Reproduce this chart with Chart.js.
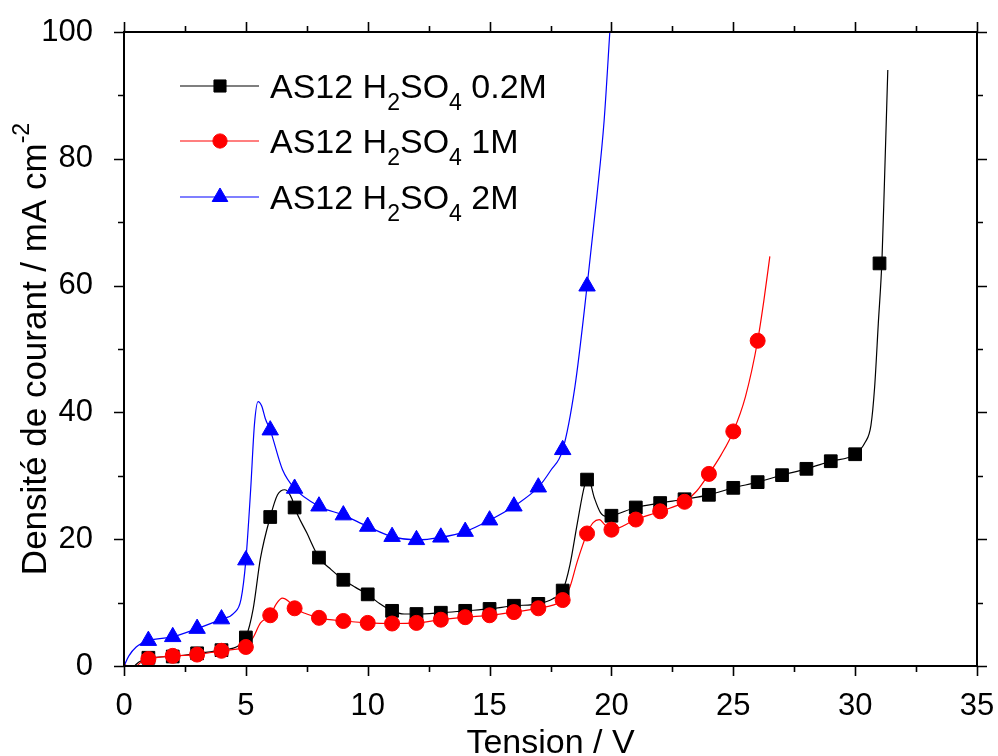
<!DOCTYPE html>
<html>
<head>
<meta charset="utf-8">
<script src="https://cdn.jsdelivr.net/npm/chart.js@4.4.1/dist/chart.umd.min.js"></script>
<style>
  html, body { margin: 0; padding: 0; background: #fff; }
</style>
</head>
<body>
<canvas id="jvChart" width="998" height="756"></canvas>
<script>
// markers (one per volt)
const markerV02 = [1,2,3,4,5,6,7,8,9,10,11,12,13,14,15,16,17,18,19,20,21,22,23,24,25,26,27,28,29,30,31];
const markerJ02 = [1.3,1.5,2.0,2.5,4.5,23.5,25.0,17.1,13.6,11.3,8.7,8.2,8.4,8.7,9.0,9.5,9.8,11.9,29.4,23.7,25.0,25.7,26.3,27.0,28.1,29.0,30.1,31.1,32.3,33.4,63.5];
const markerV1 = [1,2,3,4,5,6,7,8,9,10,11,12,13,14,15,16,17,18,19,20,21,22,23,24,25,26];
const markerJ1 = [1.1,1.6,1.8,2.4,3.0,8.0,9.1,7.6,7.1,6.8,6.7,6.8,7.3,7.7,8.0,8.5,9.1,10.4,20.9,21.5,23.1,24.4,25.9,30.3,37.0,51.3];
const markerV2 = [1,2,3,4,5,6,7,8,9,10,11,12,13,14,15,16,17,18,19];
const markerJ2 = [4.0,4.6,5.9,7.4,16.7,37.2,28.0,25.2,23.8,22.0,20.4,19.9,20.3,21.2,23.0,25.2,28.2,34.1,59.9];

const curveV02 = [0,0.3,0.6,1,2,3,4,4.7,5,5.3,5.6,6,6.3,6.6,6.9,7,7.5,8,8.5,9,9.5,10,10.5,11,11.5,12,13,14,15,16,17,17.6,18,18.3,18.6,18.9,19.05,19.3,19.55,19.8,20,21,22,23,24,25,26,27,28,29,30,30.4,30.65,30.8,30.95,31.1,31.2,31.34];
const curveJ02 = [0,-0.3,0.6,1.3,1.5,2.0,2.5,3.2,4.5,9,17,23.5,27,27.8,26.3,25.0,21,17.1,15.2,13.6,12.4,11.3,9.8,8.7,8.2,8.2,8.4,8.7,9.0,9.5,9.8,10.6,11.9,16,22.5,28.5,29.6,26.5,24.2,23.6,23.7,25.0,25.7,26.3,27.0,28.1,29.0,30.1,31.1,32.3,33.4,35.2,38,44,54,64,76,94];
const curveV1 = [0,0.35,0.7,1,2,3,4,4.7,5,5.3,5.6,6,6.25,6.5,6.75,7,7.5,8,9,10,11,12,13,14,15,16,17,17.6,18,18.3,18.6,19,19.25,19.5,19.75,20,21,22,23,23.5,24,24.5,25,25.5,26,26.25,26.5];
const curveJ1 = [0.3,-0.4,0.6,1.1,1.6,1.8,2.4,2.7,3.0,4.5,6.8,8.0,9.8,10.7,10.2,9.1,8.2,7.6,7.1,6.8,6.7,6.8,7.3,7.7,8.0,8.5,9.1,9.6,10.4,12.5,16.5,20.9,22.6,23.1,22.2,21.5,23.1,24.4,25.9,27.6,30.3,33.3,37.0,42.5,51.3,57.5,64.6];
const curveV2 = [0,0.2,0.5,1,2,3,4,4.5,4.8,5,5.2,5.35,5.5,5.65,5.8,6,6.5,7,8,9,10,11,12,13,14,15,16,17,17.5,18,18.5,19,19.4,19.7,19.95];
const curveJ2 = [0,1.6,3.0,4.0,4.6,5.9,7.4,8.3,10.5,16.7,28,38,41.7,41,39,37.2,31,28.0,25.2,23.8,22.0,20.4,19.9,20.3,21.2,23.0,25.2,28.2,30.8,34.1,44,59.9,74,86,101];

const seriesLabels = ['AS12 H_{2}SO_{4} 0.2M', 'AS12 H_{2}SO_{4} 1M', 'AS12 H_{2}SO_{4} 2M'];
const xTitle = 'Tension / V';
const yTitle = 'Densité de courant / mA cm^{-2}';

const FONT = "'Liberation Sans', Arial, sans-serif";
const colors = ['#000000', '#ff0000', '#0000ff'];
const styles = ['rect', 'circle', 'triangle'];
const radii = [9, 7.5, 9.5];

const pts = (xs, ys) => xs.map((x, i) => ({ x: x, y: ys[i] }));

const curveSet = (xs, ys, i) => ({
    data: pts(xs, ys),
    showLine: true,
    pointRadius: 0,
    borderColor: colors[i],
    borderWidth: 1.2,
    cubicInterpolationMode: 'monotone',
    order: 10 + (3 - i),
});

const markerSet = (xs, ys, i) => ({
    data: pts(xs, ys),
    showLine: false,
    pointStyle: styles[i],
    pointRadius: radii[i],
    pointBackgroundColor: colors[i],
    pointBorderColor: colors[i],
    pointBorderWidth: 1,
    order: 3 - i,
});

// split "a_{b}c^{d}" into parts
function richParts(str) {
    const out = [];
    str.split(/([_^]\{[^}]*\})/).forEach(p => {
        if (!p) return;
        if (p[0] === '_') out.push({ t: p.slice(2, -1), k: 'sub' });
        else if (p[0] === '^') out.push({ t: p.slice(2, -1), k: 'sup' });
        else out.push({ t: p, k: '' });
    });
    return out;
}

function richWidth(ctx, parts, size, small) {
    let w = 0;
    parts.forEach(p => {
        ctx.font = (p.k ? small : size) + 'px ' + FONT;
        w += ctx.measureText(p.t).width;
    });
    return w;
}

function drawRich(ctx, parts, x, y, size, small, subDy, supDy) {
    parts.forEach(p => {
        ctx.font = (p.k ? small : size) + 'px ' + FONT;
        let dy = 0;
        if (p.k === 'sub') dy = subDy;
        if (p.k === 'sup') dy = supDy;
        ctx.fillText(p.t, x, y + dy);
        x += ctx.measureText(p.t).width;
    });
}

const framePlugin = {
    id: 'frame',
    afterDatasetsDraw(chart) {
        const ctx = chart.ctx;
        const a = chart.chartArea;
        const xs = chart.scales.x, ys = chart.scales.y;
        ctx.save();
        ctx.strokeStyle = '#000';
        ctx.lineWidth = 2;
        ctx.strokeRect(a.left, a.top, a.right - a.left, a.bottom - a.top);
        ctx.lineWidth = 1.6;
        ctx.beginPath();
        for (let v = 0; v <= 35; v += 2.5) {
            const px = Math.round(xs.getPixelForValue(v)) + 0.5;
            const len = v % 5 === 0 ? 10 : 6;
            ctx.moveTo(px, a.bottom); ctx.lineTo(px, a.bottom + len);
            ctx.moveTo(px, a.top); ctx.lineTo(px, a.top - len);
        }
        for (let v = 0; v <= 100; v += 10) {
            const py = Math.round(ys.getPixelForValue(v)) + 0.5;
            const len = v % 20 === 0 ? 10 : 6;
            ctx.moveTo(a.left, py); ctx.lineTo(a.left - len, py);
            ctx.moveTo(a.right, py); ctx.lineTo(a.right + len, py);
        }
        ctx.stroke();
        ctx.restore();
    },
    afterDraw(chart) {
        const ctx = chart.ctx;
        const a = chart.chartArea;
        ctx.save();
        ctx.fillStyle = '#000';
        ctx.textBaseline = 'alphabetic';

        // x title
        ctx.font = '34px ' + FONT;
        ctx.textAlign = 'center';
        ctx.fillText(xTitle, (a.left + a.right) / 2, 753);

        // y title with superscript
        ctx.textAlign = 'left';
        const yParts = richParts(yTitle);
        const yw = richWidth(ctx, yParts, 35, 23);
        ctx.save();
        ctx.translate(46, (a.top + a.bottom) / 2);
        ctx.rotate(-Math.PI / 2);
        drawRich(ctx, yParts, -yw / 2, 0, 35, 23, 0, -17);
        ctx.restore();

        // legend
        const rows = [86, 141, 197];
        seriesLabels.forEach((lab, i) => {
            const y = rows[i];
            ctx.strokeStyle = colors[i];
            ctx.lineWidth = 1.2;
            ctx.beginPath();
            ctx.moveTo(180, y); ctx.lineTo(259, y);
            ctx.stroke();
            ctx.fillStyle = colors[i];
            ctx.strokeStyle = colors[i];
            ctx.lineWidth = 1;
            if (Chart.helpers && Chart.helpers.drawPoint) {
                Chart.helpers.drawPoint(ctx, { pointStyle: styles[i], rotation: 0, radius: radii[i] * 0.95, borderWidth: 1 }, 220, y);
            }
            ctx.fillStyle = '#000';
            drawRich(ctx, richParts(lab), 270, y + 12, 34, 23, 12, 0);
        });
        ctx.restore();
    }
};

new Chart(document.getElementById('jvChart'), {
    type: 'scatter',
    data: {
        datasets: [
            curveSet(curveV02, curveJ02, 0),
            curveSet(curveV1, curveJ1, 1),
            curveSet(curveV2, curveJ2, 2),
            markerSet(markerV02, markerJ02, 0),
            markerSet(markerV1, markerJ1, 1),
            markerSet(markerV2, markerJ2, 2),
        ]
    },
    options: {
        responsive: false,
        animation: false,
        layout: { padding: { top: 32, right: 21, left: 0, bottom: 0 } },
        plugins: { legend: { display: false }, tooltip: { enabled: false } },
        scales: {
            x: {
                type: 'linear', min: 0, max: 35,
                grid: { display: false },
                border: { display: false },
                ticks: {
                    stepSize: 2.5, autoSkip: false, maxRotation: 0,
                    color: '#000', padding: 14,
                    font: { family: FONT, size: 31 },
                    callback: v => (v % 5 === 0 ? v : ''),
                },
                afterFit: s => { s.height = 90; s.paddingLeft = 0; s.paddingRight = 0; },
            },
            y: {
                min: 0, max: 100,
                grid: { display: false },
                border: { display: false },
                ticks: {
                    stepSize: 10, autoSkip: false,
                    color: '#000', padding: 23,
                    font: { family: FONT, size: 31 },
                    callback: v => (v % 20 === 0 ? v : ''),
                },
                afterFit: s => { s.width = 124; s.paddingTop = 0; s.paddingBottom = 0; },
            }
        }
    },
    plugins: [framePlugin]
});
</script>
</body>
</html>
